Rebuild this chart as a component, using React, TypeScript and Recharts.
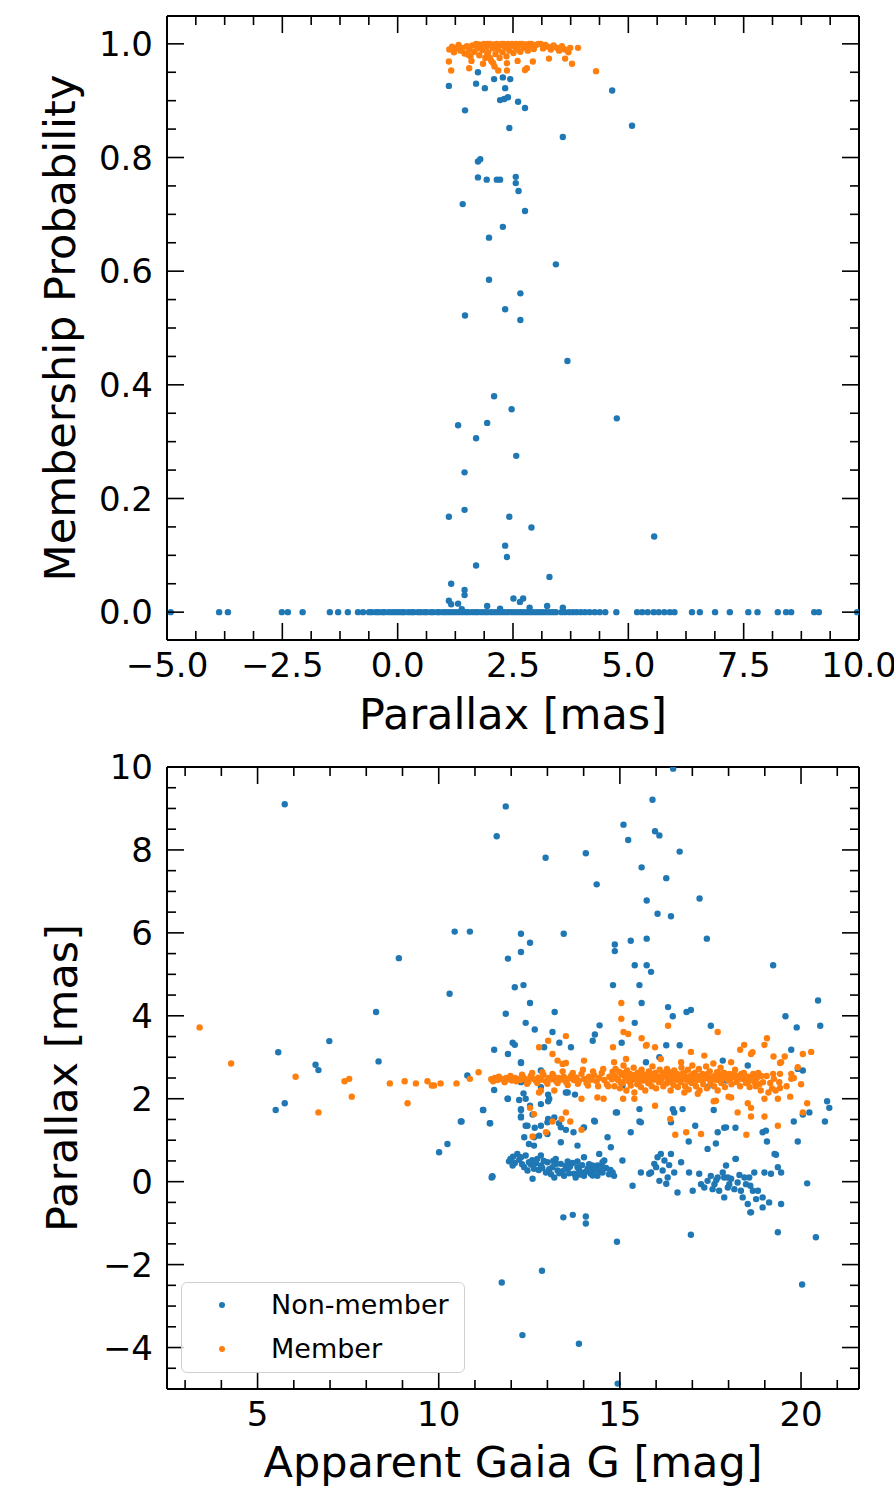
import React from 'react';
import { ScatterChart, Scatter, XAxis, YAxis, Legend } from 'recharts';

const BLUE = '#1f77b4';
const ORANGE = '#ff7f0e';
const FONT = '"DejaVu Sans", Verdana, sans-serif';
const legendOrder = ['Non-member', 'Member'];

// ---- top panel: parallax [mas] vs membership probability ----
const probNonMember: number[][] = [
  // probability ~ 0 strip
  [-4.92, 0], [-3.87, 0], [-3.68, 0], [-2.51, 0], [-2.38, 0], [-2.06, 0], [-1.47, 0], [-1.29, 0],
  [-1.08, 0], [-0.86, 0], [-0.75, 0], [-0.62, 0], [-0.56, 0], [-0.47, 0], [-0.41, 0], [-0.33, 0],
  [-0.28, 0], [-0.19, 0], [-0.12, 0], [-0.05, 0], [0.02, 0], [0.09, 0], [0.14, 0], [0.23, 0],
  [0.3, 0], [0.35, 0], [0.44, 0], [0.5, 0], [0.58, 0], [0.63, 0], [0.72, 0], [0.77, 0], [0.86, 0],
  [0.91, 0], [0.99, 0], [1.05, 0], [1.12, 0], [1.19, 0], [1.26, 0], [1.33, 0], [1.4, 0], [1.47, 0],
  [1.53, 0], [1.61, 0], [1.68, 0], [1.74, 0], [1.82, 0], [1.89, 0], [1.95, 0], [2.03, 0], [2.1, 0],
  [2.17, 0], [2.24, 0], [2.31, 0], [2.38, 0], [2.45, 0], [2.52, 0], [2.59, 0], [2.66, 0], [2.73, 0],
  [2.8, 0], [2.87, 0], [2.94, 0], [3.01, 0], [3.08, 0], [3.15, 0], [3.22, 0], [3.29, 0], [3.36, 0],
  [3.43, 0], [3.55, 0], [3.63, 0], [3.72, 0], [3.8, 0], [3.88, 0], [3.97, 0], [4.06, 0], [4.16, 0],
  [4.27, 0], [4.38, 0], [4.5, 0], [4.74, 0], [5.19, 0], [5.3, 0], [5.42, 0], [5.55, 0], [5.66, 0],
  [5.78, 0], [5.9, 0], [6.0, 0], [6.38, 0], [6.55, 0], [6.88, 0], [7.2, 0], [7.6, 0], [7.8, 0],
  [8.24, 0], [8.42, 0], [8.53, 0], [9.03, 0], [9.13, 0], [9.96, 0],
  // just above zero
  [1.11, 0.02], [1.16, 0.014], [1.31, 0.015], [1.39, 0.005], [1.94, 0.011], [2.22, 0.006],
  [2.51, 0.024], [2.65, 0.018], [2.72, 0.024], [2.86, 0.008], [3.24, 0.011], [3.58, 0.008],
  [1.16, 0.05], [1.45, 0.039], [1.45, 0.03], [1.7, 0.082], [3.29, 0.062],
  // intermediate probabilities
  [2.37, 0.097], [2.33, 0.117], [5.56, 0.133], [2.9, 0.149], [1.11, 0.168], [2.42, 0.168],
  [1.45, 0.18], [1.45, 0.246], [2.57, 0.275], [1.7, 0.306], [1.31, 0.329], [1.94, 0.333],
  [4.75, 0.341], [2.47, 0.357], [2.09, 0.38], [3.68, 0.442], [2.66, 0.514], [1.46, 0.522],
  [2.33, 0.533], [2.66, 0.561], [1.98, 0.585], [3.43, 0.612], [1.98, 0.659], [2.28, 0.678],
  [2.76, 0.706], [1.41, 0.718], [2.62, 0.741], [2.56, 0.755], [2.56, 0.766], [1.74, 0.765],
  [1.93, 0.761], [2.15, 0.761], [2.22, 0.761], [1.74, 0.793], [1.79, 0.797], [3.58, 0.836],
  [2.42, 0.852], [5.08, 0.856], [1.46, 0.883], [2.76, 0.887], [2.61, 0.898], [2.22, 0.901],
  [2.31, 0.903], [2.39, 0.906], [4.65, 0.918], [1.89, 0.922], [2.33, 0.922], [1.11, 0.926],
  [1.7, 0.93], [2.09, 0.938], [2.44, 0.938], [2.28, 0.941], [1.74, 0.95],
];

const probMember: number[][] = [
  [1.12, 0.99], [1.18, 0.995], [1.22, 0.985], [1.27, 0.992], [1.32, 0.998], [1.36, 0.988],
  [1.41, 0.993], [1.45, 0.983], [1.5, 0.996], [1.55, 0.99], [1.58, 0.978], [1.62, 0.997],
  [1.66, 0.986], [1.7, 1.0], [1.73, 0.992], [1.75, 0.999], [1.77, 0.98], [1.8, 0.998], [1.84, 0.989],
  [1.87, 1.0], [1.9, 0.975], [1.93, 0.995], [1.95, 1.0], [1.96, 0.985], [2.0, 1.0], [2.03, 0.97],
  [2.05, 0.996], [2.06, 0.992], [2.09, 0.999], [2.12, 0.982], [2.15, 1.0], [2.18, 0.99], [2.21, 0.975],
  [2.24, 0.998], [2.25, 1.0], [2.27, 0.985], [2.3, 1.0], [2.33, 0.993], [2.35, 0.999], [2.36, 0.978],
  [2.39, 1.0], [2.42, 0.988], [2.45, 0.997], [2.48, 1.0], [2.51, 0.984], [2.54, 0.995], [2.55, 0.997],
  [2.57, 1.0], [2.6, 0.99], [2.63, 0.998], [2.65, 1.0], [2.66, 0.986], [2.7, 1.0], [2.74, 0.993],
  [2.78, 0.999], [2.82, 0.988], [2.85, 1.0], [2.86, 0.996], [2.9, 1.0], [2.95, 0.991], [3.0, 0.998],
  [3.05, 1.0], [3.1, 1.0], [3.15, 0.992], [3.2, 0.998], [3.26, 0.995], [3.32, 0.99], [3.38, 0.997],
  [3.45, 0.993], [3.5, 0.988], [3.56, 0.996], [3.62, 0.99], [3.7, 0.985], [3.74, 0.993],
  [3.91, 0.993], [4.3, 0.952], [1.11, 0.969], [1.16, 0.953], [1.55, 0.957], [2.18, 0.953],
  [2.37, 0.953], [2.37, 0.966], [2.07, 0.966], [2.76, 0.954], [2.8, 0.957], [2.93, 0.969],
  [3.28, 0.974], [3.63, 0.974], [3.78, 0.965], [1.94, 0.981], [1.53, 0.981], [1.6, 0.97],
  [1.85, 0.965], [2.1, 0.96], [2.6, 0.97], [2.0, 0.975],
];

// ---- bottom panel: apparent Gaia G [mag] vs parallax [mas] ----
const gNonMember: number[][] = [
  [5.75, 9.1], [11.6, 8.33], [10.44, 6.03], [10.86, 6.03], [8.9, 5.39], [10.3, 4.53], [8.27, 4.09],
  [6.98, 3.39], [5.57, 3.12], [8.34, 2.9], [6.6, 2.82], [6.68, 2.69], [11.53, 3.18], [10.79, 2.56],
  [11.53, 2.21], [5.5, 1.73], [5.75, 1.89], [10.61, 1.45], [11.22, 1.73], [11.41, 1.41],
  [11.85, 9.05], [12.95, 7.81], [14.06, 7.92], [14.36, 7.17], [15.9, 9.21], [16.47, 9.96],
  [15.1, 8.61], [15.23, 8.24], [15.97, 8.45], [16.09, 8.35], [16.65, 7.96], [15.6, 7.58],
  [16.28, 7.32], [17.2, 6.83], [15.74, 6.78], [16.04, 6.46], [16.41, 6.4], [17.4, 5.86],
  [12.27, 5.98], [13.45, 5.98], [12.52, 5.76], [12.27, 5.54], [11.91, 5.38], [14.86, 5.72],
  [14.86, 5.56], [15.3, 5.81], [15.74, 5.86], [15.41, 5.22], [15.74, 5.22], [15.86, 5.06],
  [19.23, 5.22], [12.1, 4.69], [12.34, 4.74], [14.81, 4.74], [15.54, 4.74], [12.52, 4.31],
  [15.6, 4.31], [20.47, 4.37], [20.53, 3.76], [11.85, 4.05], [13.2, 4.09], [16.33, 4.21],
  [16.46, 3.99], [16.84, 4.09], [16.96, 4.14], [12.4, 3.83], [14.44, 3.77], [15.41, 3.83],
  [17.51, 3.76], [19.57, 3.99], [19.88, 3.72], [12.65, 3.67], [13.14, 3.61], [14.31, 3.55],
  [14.25, 3.4], [12.04, 3.35], [12.1, 3.3], [11.91, 3.08], [13.33, 3.35], [13.65, 3.24],
  [15.05, 3.35], [16.28, 3.29], [16.65, 3.29], [19.73, 3.18], [19.91, 2.72], [12.27, 2.86],
  [12.91, 3.24], [12.82, 2.68], [12.27, 2.88], [15.72, 2.88], [16.09, 3.0], [17.84, 2.92],
  [18.53, 2.8], [20.05, 2.68], [17.42, 2.28], [17.93, 2.44], [12.27, 2.4], [12.82, 2.28],
  [15.07, 2.32], [15.49, 2.44],
  [11.91, 2.0], [12.34, 2.13], [12.4, 2.0], [12.52, 1.83], [13.02, 1.94], [13.02, 2.1],
  [13.51, 2.15], [13.76, 2.1], [12.27, 1.73], [12.27, 1.57], [12.59, 1.62], [13.02, 1.51],
  [12.4, 1.35], [12.65, 1.3], [13.32, 1.41], [13.51, 1.25], [14.0, 1.3], [14.31, 1.45],
  [14.92, 1.67], [15.54, 1.45], [15.3, 1.19], [16.46, 1.75], [17.08, 1.35], [17.59, 1.73],
  [17.7, 1.19], [17.88, 1.3], [18.19, 1.3], [18.94, 1.19], [19.06, 0.97], [19.8, 1.45],
  [20.05, 1.62], [20.23, 1.67], [20.66, 1.45], [20.72, 1.94], [20.78, 1.78], [19.91, 0.97],
  [19.31, 0.65], [20.17, -0.04], [17.65, 0.92], [16.9, 0.97], [18.19, 0.55], [18.6, -0.74],
  [16.96, -1.28], [19.36, -1.22], [20.41, -1.34], [13.44, -0.86], [13.7, -0.8], [14.06, -0.84],
  [14.06, -1.01], [11.48, 0.12], [15.35, -0.1],
  [19.27, 0.67], [19.03, 1.23], [17.93, 1.31], [17.42, 0.79], [16.41, 1.43], [16.5, 1.67],
  [16.73, 1.75], [15.58, 1.43], [15.54, 1.75], [14.89, 1.67], [14.29, 1.47], [14.01, 1.31],
  [13.72, 1.19], [13.37, 1.31], [13.19, 1.55], [12.27, 1.55], [12.45, 1.35], [12.82, 1.35],
  [13.0, 1.43], [12.63, 1.07], [12.27, 1.75], [12.82, 1.87], [13.05, 2.0], [13.56, 2.15],
  [12.22, 1.97], [11.9, 2.0], [11.23, 1.73], [11.42, 1.41], [10.63, 1.45], [10.24, 0.91],
  [10.01, 0.71], [11.46, 0.1],
  // clump near 12-15 mag
  [11.94, 0.49], [12.04, 0.39], [12.17, 0.67], [12.27, 0.59], [12.4, 0.63], [12.36, 0.35],
  [12.49, 0.47], [12.63, 0.31], [12.72, 0.55], [12.82, 0.39], [12.96, 0.22], [13.0, 0.47],
  [13.14, 0.35], [13.28, 0.27], [13.37, 0.43], [13.46, 0.14], [13.56, 0.31], [13.65, 0.43],
  [13.74, 0.19], [13.83, 0.35], [13.92, 0.22], [14.01, 0.14], [14.11, 0.31], [14.2, 0.19],
  [14.29, 0.27], [14.38, 0.14], [14.52, 0.22], [14.57, 0.51], [14.8, 0.22], [14.84, 0.14],
  [13.19, 0.1], [13.78, 0.1], [12.59, 0.07], [11.48, 0.13], [13.56, 0.49], [13.83, 0.49],
  [14.38, 0.39], [14.52, 0.47], [15.07, 0.51], [12.82, 0.63], [13.23, 0.55], [14.01, 0.59],
  [14.24, 0.39], [12.1, 0.45], [12.22, 0.53], [12.45, 0.27], [12.55, 0.41], [12.68, 0.45],
  [12.76, 0.28], [12.9, 0.5], [13.05, 0.3], [13.1, 0.18], [13.25, 0.43], [13.42, 0.25],
  [13.5, 0.38], [13.6, 0.2], [13.7, 0.45], [13.88, 0.27], [13.96, 0.4], [14.06, 0.24],
  [14.15, 0.42], [14.25, 0.15], [14.34, 0.33], [14.45, 0.25], [14.62, 0.33], [14.7, 0.18],
  [12.05, 0.6], [11.98, 0.55], [14.66, 1.07], [14.75, 0.83], [14.43, 0.67], [13.83, 0.87],
  [13.37, 0.95], [12.49, 0.91], [12.77, 1.11], [13.0, 1.15], [12.36, 1.07], [12.63, 0.87],
  [12.3, 0.42], [12.58, 0.52], [12.86, 0.33], [13.16, 0.5], [13.33, 0.2], [13.62, 0.36],
  [13.9, 0.17], [14.18, 0.3], [14.48, 0.36], [14.74, 0.28],
  // clump near 16 mag
  [15.86, 0.22], [15.95, 0.43], [16.04, 0.59], [16.13, 0.67], [16.23, 0.51], [16.18, 0.27],
  [16.32, 0.1], [16.41, 0.67], [16.5, 0.22], [16.69, 0.47], [16.59, -0.26], [16.91, 0.22],
  [16.09, 0.02], [16.28, -0.05], [15.81, 0.19], [15.58, 0.22], [16.0, 0.35], [16.36, 0.4],
  // clump near 18 mag
  [17.19, 0.19], [17.33, -0.14], [17.42, 0.02], [17.51, 0.14], [17.61, -0.06], [17.7, 0.1],
  [17.74, -0.22], [17.84, 0.22], [17.88, 0.1], [17.93, 0.39], [17.98, -0.14], [18.07, 0.07],
  [18.16, -0.18], [18.2, 0.55], [18.25, -0.02], [18.34, -0.22], [18.39, -0.38], [18.48, -0.06],
  [18.53, -0.54], [18.57, 0.1], [18.67, -0.22], [18.71, 0.22], [18.76, -0.42], [18.62, -0.74],
  [18.94, -0.38], [18.94, -0.62], [19.12, -0.5], [19.45, -0.54], [19.17, 0.19], [18.99, 0.22],
  [19.36, 0.35], [19.45, 0.22], [18.44, 0.1], [17.24, -0.06], [17.01, -0.22], [18.81, -0.22],
  [17.98, 0.1], [17.56, -0.18], [17.88, -0.38], [17.66, 0.04], [18.02, -0.06], [18.3, 0.16],
  [18.6, -0.1],
  // far outliers
  [14.94, -4.87], [11.74, -2.43], [12.31, -3.7], [12.85, -2.15], [13.87, -3.91], [14.92, -1.45],
  [20.03, -2.48],
];

const gMember: number[][] = [
  [3.4, 3.72], [4.27, 2.85], [6.05, 2.53], [7.4, 2.42], [7.53, 2.48], [7.6, 2.05], [6.68, 1.67],
  [8.65, 2.37], [9.06, 2.42], [9.14, 1.89], [9.37, 2.37], [9.69, 2.42], [9.81, 2.32], [9.87, 2.32],
  [10.05, 2.37], [10.49, 2.37], [10.86, 2.48], [11.1, 2.64], [11.53, 2.48],
  // main sequence band
  [11.45, 2.47], [11.55, 2.5], [11.62, 2.45], [11.7, 2.49], [11.78, 2.46], [11.86, 2.5],
  [11.94, 2.47], [12.02, 2.44], [12.1, 2.5], [12.18, 2.48], [12.26, 2.45], [12.33, 2.52],
  [12.4, 2.47], [12.47, 2.41], [12.54, 2.55], [12.61, 2.48], [12.68, 2.44], [12.75, 2.51],
  [12.82, 2.46], [12.89, 2.58], [12.96, 2.42], [13.03, 2.5], [13.1, 2.47], [13.17, 2.55],
  [13.24, 2.43], [13.31, 2.5], [13.38, 2.46], [13.45, 2.53], [13.52, 2.4], [13.59, 2.49],
  [13.66, 2.56], [13.73, 2.45], [13.8, 2.51], [13.87, 2.43], [13.94, 2.6], [14.01, 2.48],
  [14.08, 2.38], [14.15, 2.53], [14.22, 2.46], [14.29, 2.57], [14.36, 2.42], [14.43, 2.5],
  [14.5, 2.62], [14.57, 2.45], [14.64, 2.35], [14.71, 2.53], [14.78, 2.47],
  [11.5, 2.42], [11.66, 2.53], [11.82, 2.4], [11.98, 2.55], [12.14, 2.42], [12.3, 2.58],
  [12.44, 2.36], [12.58, 2.62], [12.72, 2.38], [12.86, 2.64], [13.0, 2.36], [13.14, 2.6],
  [13.28, 2.38], [13.42, 2.66], [13.56, 2.33], [13.7, 2.62], [13.84, 2.36], [13.98, 2.7],
  [14.12, 2.32], [14.26, 2.66], [14.4, 2.3], [14.54, 2.72], [14.68, 2.3], [14.8, 2.65],
  [14.85, 2.55], [14.85, 2.3], [14.88, 2.72], [14.95, 2.45], [14.98, 2.65], [15.0, 2.25],
  [15.05, 2.58], [15.08, 2.38], [15.1, 2.8], [15.15, 2.5], [15.18, 2.2], [15.2, 2.68],
  [15.25, 2.42], [15.28, 2.6], [15.3, 2.32], [15.35, 2.55], [15.38, 2.75], [15.4, 2.15],
  [15.45, 2.47], [15.48, 2.35], [15.5, 2.63], [15.55, 2.52], [15.58, 2.28], [15.6, 2.7],
  [15.65, 2.44], [15.68, 2.58], [15.7, 2.2], [15.75, 2.5], [15.78, 2.38], [15.8, 2.66],
  [15.85, 2.56], [15.88, 2.3], [15.9, 2.78], [15.95, 2.46], [15.98, 2.62], [16.0, 2.25],
  [16.05, 2.53], [16.08, 2.4], [16.1, 2.7], [16.15, 2.48], [16.18, 2.6], [16.2, 2.3],
  [16.25, 2.55], [16.28, 2.37], [16.3, 2.72], [16.35, 2.45], [16.38, 2.64], [16.4, 2.2],
  [16.45, 2.52], [16.48, 2.33], [16.5, 2.68], [16.55, 2.47], [16.58, 2.6], [16.6, 2.28],
  [16.65, 2.55], [16.68, 2.4], [16.7, 2.75], [16.75, 2.5], [16.78, 2.62], [16.8, 2.3],
  [16.85, 2.45], [16.88, 2.7], [16.9, 2.22], [16.95, 2.55], [16.98, 2.38], [17.0, 2.8],
  [17.05, 2.48], [17.08, 2.63], [17.1, 2.3], [17.15, 2.53], [17.18, 2.72], [17.2, 2.2],
  [17.25, 2.45], [17.28, 2.6], [17.3, 2.35], [17.35, 2.56], [17.38, 2.78], [17.4, 2.25],
  [17.45, 2.48], [17.48, 2.66], [17.5, 2.36], [17.55, 2.52], [17.58, 2.85], [17.6, 2.3],
  [17.65, 2.46], [17.68, 2.64], [17.7, 2.2], [17.75, 2.55], [17.78, 2.75], [17.8, 2.38],
  [17.85, 2.5], [17.88, 2.62], [17.9, 2.28], [17.98, 2.45], [18.02, 2.6], [18.08, 2.35],
  [18.12, 2.52], [18.18, 2.7], [18.22, 2.4], [18.28, 2.55], [18.32, 2.3], [18.38, 2.48],
  [18.42, 2.62], [18.48, 2.38], [18.52, 2.53], [18.58, 2.28], [18.62, 2.46], [18.68, 2.6],
  [18.72, 2.4], [18.78, 2.5], [18.85, 2.35], [18.9, 2.55], [19.4, 2.4], [19.6, 2.3],
  [19.3, 2.2], [19.8, 2.5], [20.0, 2.35], [19.1, 2.15], [19.7, 2.05], [19.2, 2.25],
  [14.9, 2.5], [15.02, 2.4], [15.12, 2.62], [15.22, 2.52], [15.32, 2.45], [15.42, 2.58],
  [15.52, 2.4], [15.62, 2.55], [15.72, 2.48], [15.82, 2.42], [15.92, 2.6], [16.02, 2.5],
  [16.12, 2.42], [16.22, 2.62], [16.32, 2.5], [16.42, 2.4], [16.52, 2.58], [16.62, 2.45],
  [16.72, 2.6], [16.82, 2.52], [16.92, 2.42], [17.02, 2.6], [17.12, 2.45], [17.22, 2.55],
  [17.32, 2.48], [17.42, 2.6], [17.52, 2.45], [17.62, 2.55], [17.72, 2.45], [17.82, 2.6],
  [17.92, 2.5], [18.05, 2.48], [18.15, 2.6], [18.25, 2.45], [18.35, 2.6], [18.45, 2.5],
  [18.55, 2.42], [18.65, 2.55], [18.75, 2.3], [18.82, 2.62], [18.95, 2.4], [19.05, 2.55],
  [19.15, 2.38], [19.25, 2.48],
  // scattered members
  [15.04, 4.31], [15.04, 3.93], [16.33, 3.76], [17.7, 3.61], [15.1, 3.61], [15.23, 3.56],
  [13.51, 3.51], [13.02, 3.4], [12.77, 3.24], [15.6, 3.46], [15.74, 3.3], [14.81, 3.24],
  [13.14, 3.08], [19.06, 3.46], [18.99, 3.3], [18.43, 3.3], [18.32, 3.18], [18.62, 3.08],
  [19.55, 3.02], [20.05, 3.08], [20.28, 3.13], [19.24, 3.02], [19.42, 2.86], [13.28, 2.92],
  [13.51, 2.86], [14.01, 2.92], [15.97, 3.24], [16.96, 3.13], [19.91, 2.76], [19.73, 2.6],
  [19.23, 2.6], [19.42, 2.6], [19.73, 2.48], [15.72, 3.28], [18.66, 3.12], [19.45, 2.88],
  [13.42, 2.84], [14.84, 2.88], [15.17, 2.96], [16.13, 2.96], [16.69, 2.88], [17.33, 3.04],
  [18.07, 2.88],
  [12.77, 2.15], [13.94, 2.0], [14.55, 2.0], [15.09, 2.0], [15.97, 1.83], [16.78, 2.15],
  [17.59, 1.94], [18.0, 2.05], [18.53, 1.89], [18.62, 1.78], [18.99, 2.0], [19.42, 2.26],
  [20.17, 1.89], [20.05, 1.67], [12.52, 1.78], [13.51, 1.67], [13.14, 1.45], [13.39, 1.51],
  [13.63, 1.45], [13.94, 1.25], [12.96, 1.19], [12.59, 1.09], [16.39, 1.51], [16.53, 1.13],
  [16.83, 1.19], [18.49, 1.13], [18.62, 1.57], [18.99, 1.57], [19.36, 1.35], [19.36, 2.0],
  [14.38, 2.03], [15.4, 2.0], [17.24, 1.15], [18.25, 1.67], [17.65, 1.95], [17.15, 2.12],
  [18.07, 2.03], [18.89, 2.2], [12.63, 1.63], [12.82, 2.2], [13.19, 2.2],
];

// ---- ticks ----
const plxTicks = [-5, -2.5, 0, 2.5, 5, 7.5, 10];
const plxMinor = [-4.375, -3.75, -3.125, -1.875, -1.25, -0.625, 0.625, 1.25, 1.875, 3.125, 3.75,
  4.375, 5.625, 6.25, 6.875, 8.125, 8.75, 9.375];
const probTicks = [0, 0.2, 0.4, 0.6, 0.8, 1.0];
const probMinor = [0.05, 0.1, 0.15, 0.25, 0.3, 0.35, 0.45, 0.5, 0.55, 0.65, 0.7, 0.75, 0.85, 0.9, 0.95];
const magTicks = [5, 10, 15, 20];
const magMinor = [3, 4, 6, 7, 8, 9, 11, 12, 13, 14, 16, 17, 18, 19, 21];
const plx2Ticks = [-4, -2, 0, 2, 4, 6, 8, 10];
const plx2Minor = [-4.5, -3.5, -3, -2.5, -1.5, -1, -0.5, 0.5, 1, 1.5, 2.5, 3, 3.5, 4.5, 5, 5.5,
  6.5, 7, 7.5, 8.5, 9, 9.5];

const toPts = (a: number[][]) => a.map(([x, y]) => ({ x, y }));

const fmt1 = (v: number) => (v < 0 ? '\u2212' : '') + Math.abs(v).toFixed(1);
const fmt0 = (v: number) => (v < 0 ? '\u2212' : '') + Math.abs(v).toFixed(0);

function makeTick(side: string, majors: number[], fmt?: (v: number) => string) {
  return (props: any) => {
    const { x, y, payload } = props;
    const v = payload.value;
    const major = majors.some((m) => Math.abs(m - v) < 1e-6);
    const len = major ? 17 : 9;
    let x2 = x;
    let y2 = y;
    if (side === 'bottom') y2 = y - len;
    if (side === 'top') y2 = y + len;
    if (side === 'left') x2 = x + len;
    if (side === 'right') x2 = x - len;
    let label = null;
    if (fmt && major && side === 'bottom') {
      label = (
        <text x={x} y={y + 37} textAnchor="middle" fontSize={34} fill="#000" fontFamily={FONT}>
          {fmt(v)}
        </text>
      );
    }
    if (fmt && major && side === 'left') {
      label = (
        <text x={x - 14} y={y} dy="0.36em" textAnchor="end" fontSize={34} fill="#000" fontFamily={FONT}>
          {fmt(v)}
        </text>
      );
    }
    return (
      <g>
        <line x1={x} y1={y} x2={x2} y2={y2} stroke="#000" strokeWidth={1.6} />
        {label}
      </g>
    );
  };
}

const dot = (p: any) => <circle cx={p.cx} cy={p.cy} r={3.2} fill={p.fill} />;

const axisLine = { stroke: '#000', strokeWidth: 2 };

function LegendBox(props: any) {
  const items = [...(props.payload || [])].sort(
    (a: any, b: any) => legendOrder.indexOf(a.value) - legendOrder.indexOf(b.value)
  );
  return (
    <div
      style={{
        width: 284,
        height: 91,
        border: '1.5px solid #d0d0d0',
        borderRadius: 6,
        background: 'rgba(255,255,255,0.8)',
        boxSizing: 'border-box',
        position: 'relative',
        fontFamily: FONT,
      }}
    >
      {items.map((it: any, i: number) => (
        <div
          key={i}
          style={{ position: 'absolute', left: 0, top: 5 + i * 44, height: 34, display: 'flex', alignItems: 'center' }}
        >
          <svg width={89} height={34}>
            <circle cx={40} cy={17} r={3} fill={it.color} />
          </svg>
          <span style={{ fontSize: 27, color: '#000', lineHeight: '34px' }}>{it.value}</span>
        </div>
      ))}
    </div>
  );
}

function ProbabilityPanel() {
  const all = [...plxTicks, ...plxMinor];
  const allY = [...probTicks, ...probMinor];
  return (
    <ScatterChart width={894} height={745} margin={{ top: 0, right: 0, bottom: 0, left: 0 }} style={{ fontFamily: FONT }}>
      <XAxis
        xAxisId="b" type="number" dataKey="x" domain={[-5, 10]} allowDataOverflow ticks={all} interval={0}
        tickSize={0} tickMargin={0} tickLine={false} axisLine={axisLine} height={105}
        tick={makeTick('bottom', plxTicks, fmt1)}
        label={{ value: 'Parallax [mas]', position: 'insideBottom', offset: 16, style: { fontSize: 43, fill: '#000', fontFamily: FONT } }}
      />
      <XAxis
        xAxisId="t" orientation="top" type="number" dataKey="x" domain={[-5, 10]} allowDataOverflow ticks={all}
        interval={0} tickSize={0} tickMargin={0} tickLine={false} axisLine={axisLine} height={16}
        tick={makeTick('top', plxTicks)}
      />
      <YAxis
        yAxisId="l" type="number" dataKey="y" domain={[-0.049, 1.049]} allowDataOverflow ticks={allY} interval={0}
        tickSize={0} tickMargin={0} tickLine={false} axisLine={axisLine} width={167}
        tick={makeTick('left', probTicks, fmt1)}
        label={{ value: 'Membership Probability', angle: -90, position: 'insideLeft', offset: 60, style: { textAnchor: 'middle', fontSize: 43, fill: '#000', fontFamily: FONT } }}
      />
      <YAxis
        yAxisId="r" orientation="right" type="number" dataKey="y" domain={[-0.049, 1.049]} allowDataOverflow
        ticks={allY} interval={0} tickSize={0} tickMargin={0} tickLine={false} axisLine={axisLine} width={35}
        tick={makeTick('right', probTicks)}
      />
      <Scatter xAxisId="b" yAxisId="l" name="Non-member" data={toPts(probNonMember)} fill={BLUE} shape={dot} isAnimationActive={false} />
      <Scatter xAxisId="b" yAxisId="l" name="Member" data={toPts(probMember)} fill={ORANGE} shape={dot} isAnimationActive={false} />
    </ScatterChart>
  );
}

function MagnitudePanel() {
  const all = [...magTicks, ...magMinor];
  const allY = [...plx2Ticks, ...plx2Minor];
  return (
    <ScatterChart width={894} height={744} margin={{ top: 0, right: 0, bottom: 0, left: 0 }} style={{ fontFamily: FONT }}>
      <XAxis
        xAxisId="b" type="number" dataKey="x" domain={[2.5, 21.6]} allowDataOverflow ticks={all} interval={0}
        tickSize={0} tickMargin={0} tickLine={false} axisLine={axisLine} height={100}
        tick={makeTick('bottom', magTicks, fmt0)}
        label={{ value: 'Apparent Gaia G [mag]', position: 'insideBottom', offset: 12, style: { fontSize: 43, fill: '#000', fontFamily: FONT } }}
      />
      <XAxis
        xAxisId="t" orientation="top" type="number" dataKey="x" domain={[2.5, 21.6]} allowDataOverflow ticks={all}
        interval={0} tickSize={0} tickMargin={0} tickLine={false} axisLine={axisLine} height={22}
        tick={makeTick('top', magTicks)}
      />
      <YAxis
        yAxisId="l" type="number" dataKey="y" domain={[-5, 10]} allowDataOverflow ticks={allY} interval={0}
        tickSize={0} tickMargin={0} tickLine={false} axisLine={axisLine} width={167}
        tick={makeTick('left', plx2Ticks, fmt0)}
        label={{ value: 'Parallax [mas]', angle: -90, position: 'insideLeft', offset: 62, style: { textAnchor: 'middle', fontSize: 43, fill: '#000', fontFamily: FONT } }}
      />
      <YAxis
        yAxisId="r" orientation="right" type="number" dataKey="y" domain={[-5, 10]} allowDataOverflow
        ticks={allY} interval={0} tickSize={0} tickMargin={0} tickLine={false} axisLine={axisLine} width={35}
        tick={makeTick('right', plx2Ticks)}
      />
      <Legend
        layout="vertical" align="center" verticalAlign="middle" content={LegendBox}
        wrapperStyle={{ left: 181, top: 537, width: 284, height: 91 }}
      />
      <Scatter xAxisId="b" yAxisId="l" name="Non-member" data={toPts(gNonMember)} fill={BLUE} shape={dot} isAnimationActive={false} />
      <Scatter xAxisId="b" yAxisId="l" name="Member" data={toPts(gMember)} fill={ORANGE} shape={dot} isAnimationActive={false} />
    </ScatterChart>
  );
}

export default function App() {
  return (
    <div style={{ position: 'absolute', left: 0, top: 0, width: 894, height: 1489, background: '#fff' }}>
      <ProbabilityPanel />
      <MagnitudePanel />
    </div>
  );
}
